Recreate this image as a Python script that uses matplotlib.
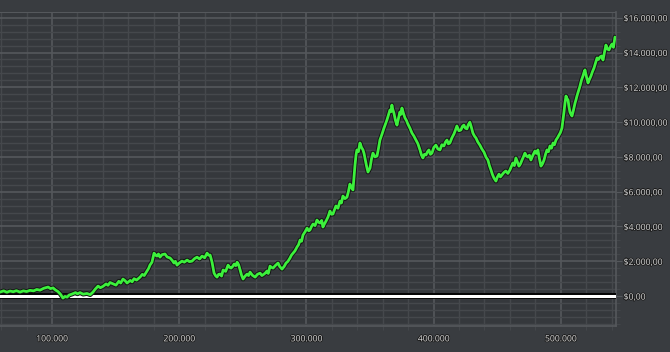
import matplotlib
matplotlib.use("Agg")
import matplotlib.pyplot as plt
import matplotlib.patheffects as pe
from matplotlib.ticker import FuncFormatter, MultipleLocator

trades = [59100, 62000, 64500, 67000, 69500, 72000, 74800, 77500, 80000, 82700,
          85500, 88000, 90600, 93500, 96900, 98800, 100800, 102700, 104700, 106500,
          108600, 110200, 111800, 113500, 115700, 118500, 120000, 122000, 124500, 127500,
          130000, 132200, 134000, 136200, 138000, 140100, 142500, 144000, 145600, 148000,
          150300, 152500, 154000, 155800, 157500, 159000, 161500, 163000, 164500, 166500,
          169200, 171000, 172500, 174700, 176000, 177000, 178600, 180200, 181500, 182500,
          183700, 184900, 186500, 188800, 190500, 192800, 194500, 195900, 197000, 198300,
          200000, 202200, 204000, 206200, 208000, 210100, 212000, 214000, 216000, 218000,
          220000, 221900, 223000, 224300, 225800, 227400, 228500, 229700, 231000, 232100,
          233300, 234500, 236500, 238400, 239600, 240800, 242000, 243200, 244500, 245500,
          246700, 247900, 249000, 250200, 251800, 253400, 254500, 255700, 257500, 259700,
          261500, 263600, 265000, 266700, 268000, 269000, 270000, 271400, 272500, 273800,
          275500, 277700, 279000, 280800, 282500, 284000, 285500, 287100, 288200, 289500,
          291000, 292600, 293800, 295000, 296200, 297300, 299000, 300500, 301800, 302800,
          304000, 305200, 306800, 308300, 309500, 310700, 312000, 313000, 314200, 315400,
          317000, 318500, 319800, 320900, 322000, 323200, 324800, 326400, 327500, 328700,
          330300, 331900, 333000, 334200, 335400, 336600, 337400, 338200, 339000, 339700,
          340900, 342100, 343300, 344500, 345300, 346000, 347200, 348400, 349200, 350000,
          351200, 352300, 353900, 355500, 356700, 357800, 359400, 361000, 362200, 363300,
          364500, 365700, 366500, 367200, 368000, 368800, 370000, 371200, 372300, 373500,
          374300, 375100, 376300, 377500, 378600, 379800, 381400, 383000, 384500, 386100,
          387700, 389300, 390500, 391600, 392800, 394000, 395200, 396300, 397500, 398700,
          400200, 401800, 403400, 405000, 406500, 408100, 409300, 410500, 411600, 412800,
          414400, 416000, 417200, 418300, 419900, 421500, 422600, 423800, 425000, 426200,
          427300, 428500, 429700, 430900, 432100, 433300, 434800, 436400, 438000, 439600,
          441100, 442700, 443900, 445100, 446200, 447400, 448200, 449000, 450200, 451400,
          452500, 453700, 455200, 456800, 458400, 460000, 461100, 462300, 463500, 464700,
          465900, 467100, 468300, 469500, 470600, 471800, 473000, 474200, 475300, 476500,
          478100, 479700, 480800, 482000, 483200, 484400, 485600, 486800, 488000, 489100,
          490300, 491500, 492700, 493900, 495000, 496200, 497400, 498600, 499700, 500900,
          501700, 502500, 503300, 504100, 504900, 505700, 506400, 507200, 508000, 508800,
          510000, 511200, 512000, 512700, 513900, 515100, 516200, 517400, 518200, 519000,
          520200, 521400, 522500, 523700, 524900, 526100, 527300, 528500, 529600, 530800,
          532000, 533200, 534300, 535500, 536700, 537900, 539100, 540300, 541400, 542600]

profit = [230, 300, 220, 290, 250, 310, 230, 300, 260, 330,
          300, 380, 340, 450, 520, 430, 470, 350, 260, 120,
          -115, -20, -60, 60, 115, 200, 130, 200, 110, 150,
          80, 230, 400, 575, 480, 560, 700, 620, 780, 700,
          630, 850, 750, 980, 880, 750, 900, 820, 1000, 920,
          1090, 1250, 1180, 1440, 1600, 1780, 1950, 2470, 2350, 2300,
          2420, 2240, 2380, 2420, 2250, 2190, 2050, 1900, 2000, 1780,
          1900, 2010, 1950, 2070, 1980, 2010, 2150, 2240, 2130, 2300,
          2200, 2470, 2350, 2360, 1950, 1320, 1180, 1090, 1250, 1265,
          1150, 1500, 1420, 1780, 1650, 1610, 1700, 1840, 1750, 1950,
          1800, 1500, 1200, 980, 1150, 1265, 1180, 1380, 1200, 1090,
          1250, 1320, 1180, 1265, 1350, 1440, 1300, 1725, 1650, 1610,
          1750, 1900, 1700, 1550, 1700, 1900, 2000, 2190, 2350, 2470,
          2600, 2820, 2950, 3220, 3150, 3510, 3700, 3910, 3750, 3800,
          4000, 4140, 4050, 4370, 4250, 4200, 4350, 3970, 4150, 4310,
          4550, 4890, 4700, 4720, 4950, 5180, 5050, 5460, 5350, 5750,
          5600, 5690, 6000, 6440, 6250, 6100, 6800, 7530, 8100, 8400,
          8300, 8800, 8550, 8400, 8200, 7940, 7500, 7130, 7250, 7360,
          7900, 8220, 8000, 8050, 8500, 8970, 9300, 9660, 9900, 10120,
          10400, 10700, 10600, 10980, 10700, 10520, 10100, 9830, 10200, 10580,
          10450, 10810, 10500, 10240, 10100, 9890, 9650, 9370, 9200, 8970,
          8750, 8400, 8100, 7940, 8150, 8110, 8300, 8400, 8150, 8220,
          8550, 8680, 8450, 8400, 8700, 8630, 8850, 8970, 8750, 8800,
          9100, 9320, 9550, 9780, 9500, 9550, 9750, 9830, 9650, 9610,
          9850, 10000, 9700, 9370, 9200, 9090, 8850, 8680, 8450, 8280,
          8000, 7820, 7500, 7250, 7000, 6790, 6700, 6610, 6850, 7010,
          6850, 6960, 7100, 7190, 7050, 7250, 7450, 7650, 7500, 7940,
          7700, 7470, 7600, 7820, 8000, 8220, 8050, 7990, 8100, 7820,
          8100, 8340, 8200, 8400, 7900, 7470, 7600, 7820, 8150, 8400,
          8300, 8630, 8500, 8800, 8700, 8970, 9100, 9260, 9400, 9660,
          10100, 10580, 11100, 11500, 11350, 11270, 10900, 10580, 10450, 10350,
          10700, 11100, 11300, 11500, 11800, 12080, 12400, 12650, 12850, 13000,
          12600, 12250, 12450, 12650, 12900, 13110, 13400, 13690, 13600, 13740,
          13800, 13570, 14000, 14430, 14200, 14150, 14350, 14490, 14300, 14890]

x_ticks = [100000, 200000, 300000, 400000, 500000]
y_ticks = [0, 2000, 4000, 6000, 8000, 10000, 12000, 14000, 16000]

bg = "#393c40"
plot_bg = "#35383c"
major_c = "#55585c"
minor_c = "#45484c"
text_c = "#dadada"

fig = plt.figure(figsize=(6.70, 3.52), dpi=100, facecolor=bg)
ax = fig.add_axes([0.0, (352 - 326) / 352, 616 / 670, (326 - 12) / 352])
ax.set_facecolor(plot_bg)

ax.set_xlim(59100, 543400)
ax.set_ylim(-1720, 16330)

ax.xaxis.set_minor_locator(MultipleLocator(20000))
ax.yaxis.set_minor_locator(MultipleLocator(400))
ax.set_xticks(x_ticks)
ax.set_yticks(y_ticks)

ax.grid(which="major", color=major_c, linewidth=1.2, zorder=0)
ax.grid(which="minor", color=minor_c, linewidth=1.0, zorder=0)
ax.set_axisbelow(True)

ax.yaxis.tick_right()
ax.yaxis.set_label_position("right")

def yfmt(v, pos):
    s = f"{v:,.2f}"
    s = s.replace(",", "X").replace(".", ",").replace("X", ".")
    return "$" + s

def xfmt(v, pos):
    return f"{int(v):,}".replace(",", ".")

ax.yaxis.set_major_formatter(FuncFormatter(yfmt))
ax.xaxis.set_major_formatter(FuncFormatter(xfmt))

for lbl in ax.get_yticklabels() + ax.get_xticklabels():
    lbl.set_fontfamily(["Open Sans", "DejaVu Sans"])
    lbl.set_fontsize(6.2)
    lbl.set_color(text_c)
    lbl.set_path_effects([pe.withStroke(linewidth=1.2, foreground="#1a1a1a")])

ax.tick_params(axis="y", which="major", length=4, color=major_c, pad=1.5, right=True, left=False)
ax.tick_params(axis="y", which="minor", length=3, color=minor_c, right=True, left=False)
ax.tick_params(axis="x", which="major", length=0, pad=6)
ax.tick_params(axis="x", which="minor", length=3, color=minor_c)

for side in ["top", "left"]:
    ax.spines[side].set_visible(False)
for side in ["right", "bottom"]:
    ax.spines[side].set_color(major_c)
    ax.spines[side].set_linewidth(1.2)
ax.axhline(16330, color=major_c, linewidth=1.5, zorder=1)

ax.axhline(0, color="white", linewidth=2.2, zorder=3,
           path_effects=[pe.Stroke(linewidth=4.2, foreground="black"), pe.Normal()])

ax.plot(trades, profit, color="#3cf03c", linewidth=2.0, zorder=4,
        solid_joinstyle="round", solid_capstyle="round",
        path_effects=[pe.Stroke(linewidth=3.4, foreground="#151515",
                                joinstyle="round"), pe.Normal()])

fig.savefig("out.png", dpi=100, facecolor=bg)
